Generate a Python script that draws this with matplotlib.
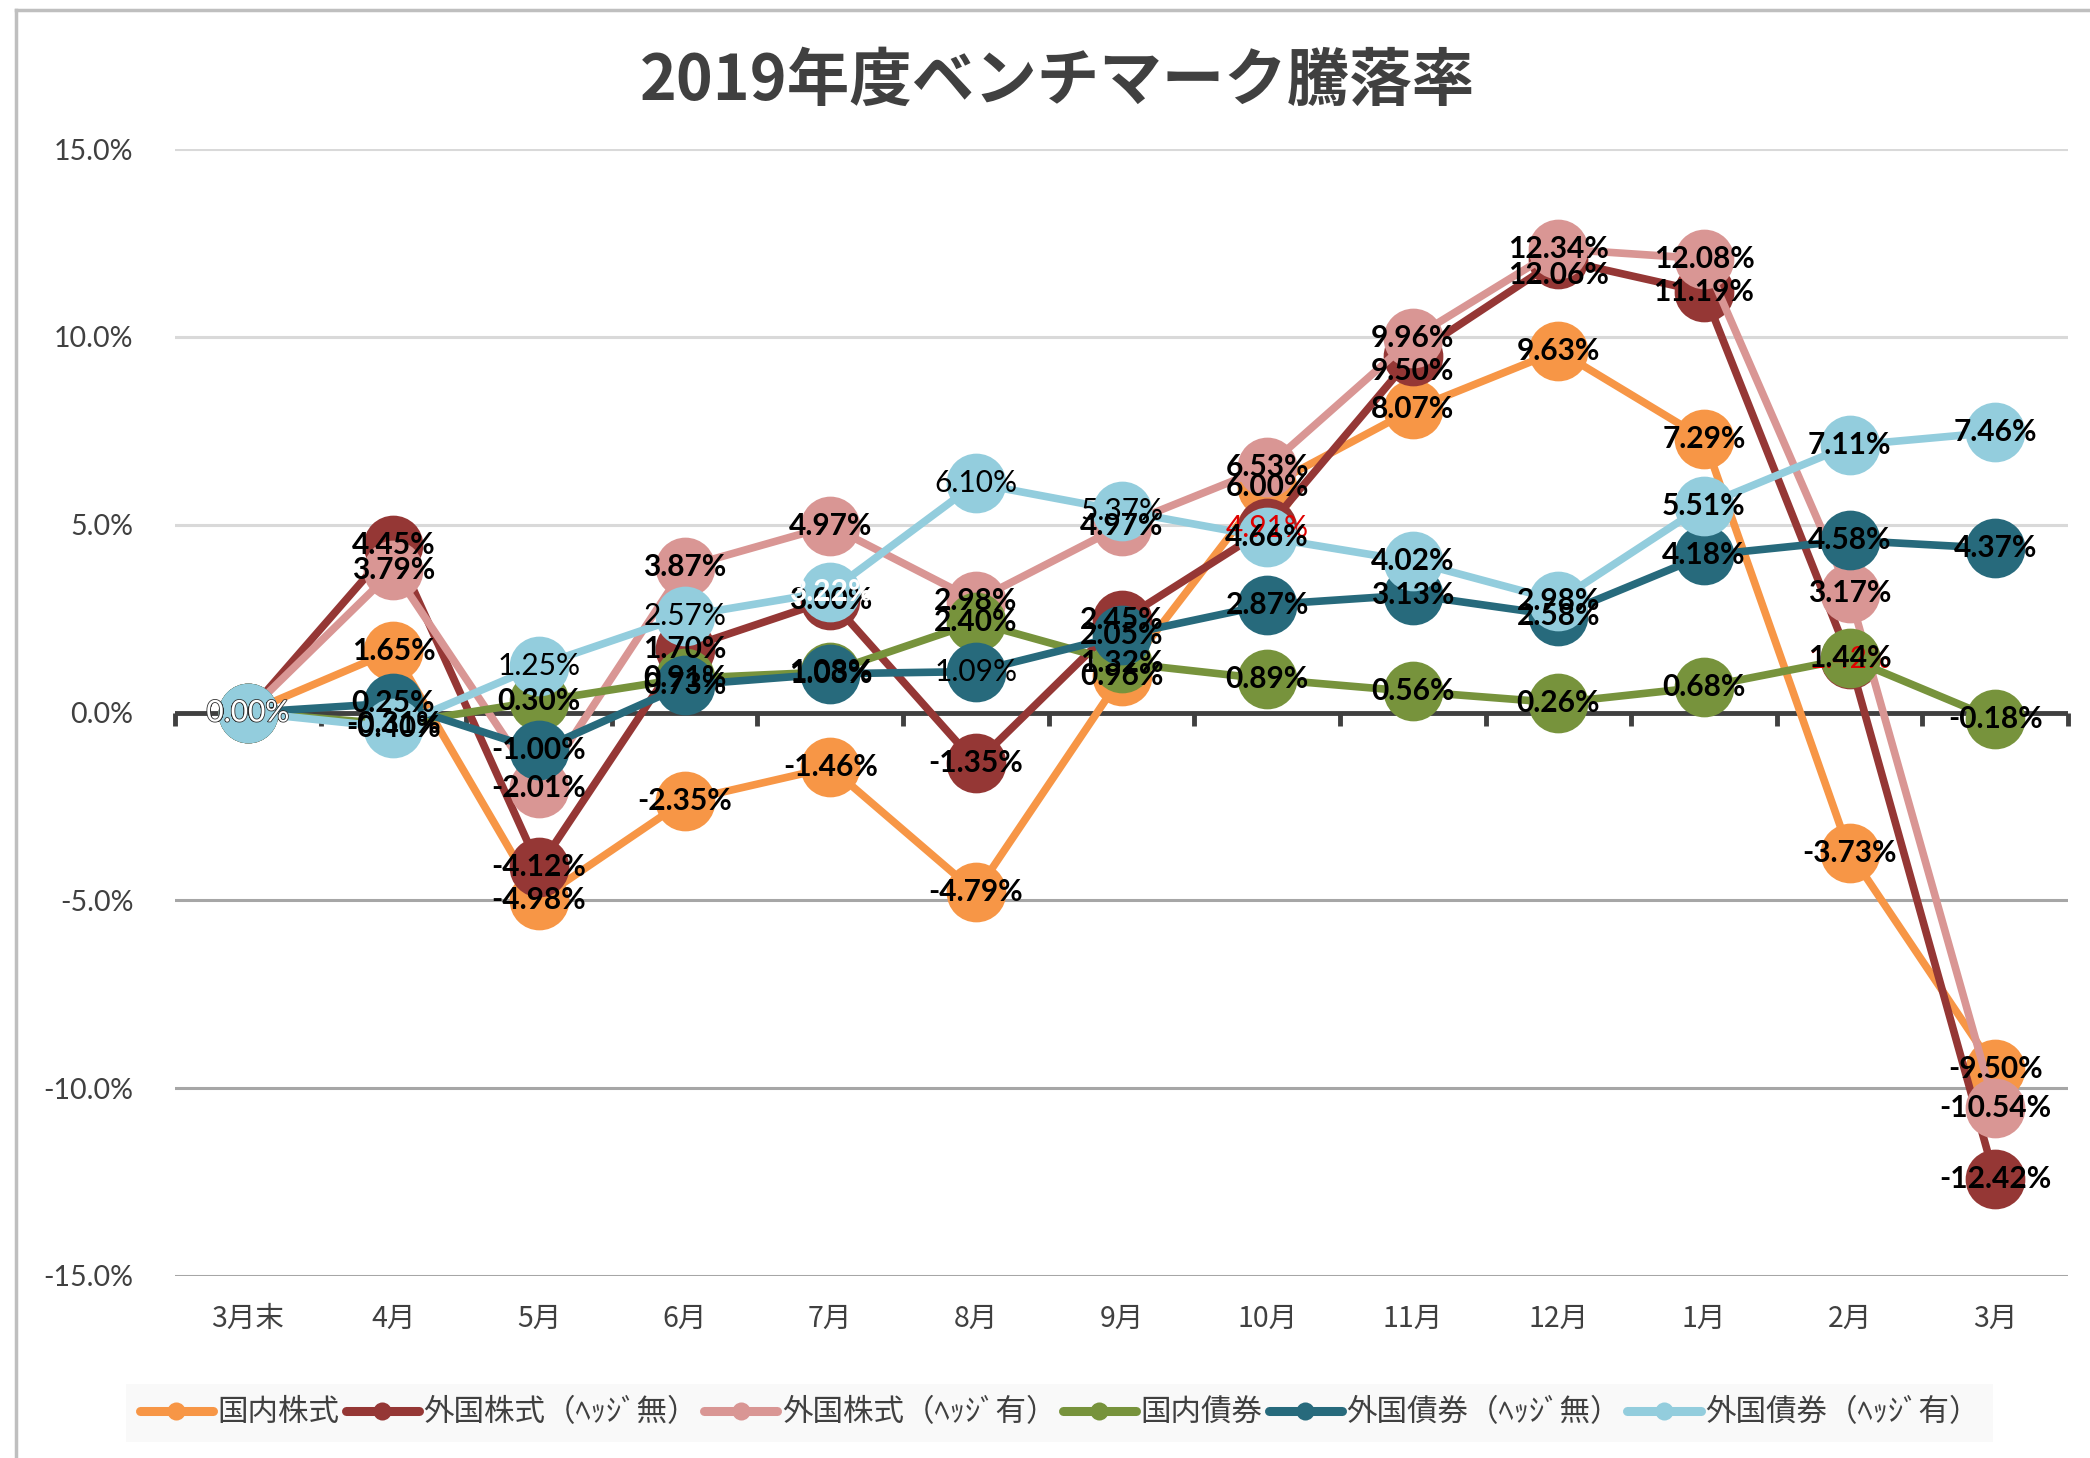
import numpy as np
import matplotlib
matplotlib.use("Agg")
import matplotlib.pyplot as plt
import matplotlib.patheffects as pe
from matplotlib.lines import Line2D

plt.rcParams['font.family'] = ['Lato', 'Noto Sans CJK JP', 'DejaVu Sans']

# ---- data (percent) ----
months = ['3月末', '4月', '5月', '6月', '7月', '8月', '9月', '10月', '11月', '12月', '1月', '2月', '3月']

names = ['国内株式', '外国株式（ﾍｯｼﾞ無）', '外国株式（ﾍｯｼﾞ有）', '国内債券', '外国債券（ﾍｯｼﾞ無）', '外国債券（ﾍｯｼﾞ有）']

jp_stock = [0.00, 1.65, -4.98, -2.35, -1.46, -4.79, 0.96, 6.00, 8.07, 9.63, 7.29, -3.73, -9.50]
fx_stock_unhedged = [0.00, 4.45, -4.12, 1.70, 3.00, -1.35, 2.45, 4.91, 9.50, 12.06, 11.19, 1.42, -12.42]
fx_stock_hedged = [0.00, 3.79, -2.01, 3.87, 4.97, 2.98, 4.97, 6.53, 9.96, 12.34, 12.08, 3.17, -10.54]
jp_bond = [0.00, -0.31, 0.30, 0.91, 1.08, 2.40, 1.32, 0.89, 0.56, 0.26, 0.68, 1.44, -0.18]
fx_bond_unhedged = [0.00, 0.25, -1.00, 0.73, 1.03, 1.09, 2.05, 2.87, 3.13, 2.58, 4.18, 4.58, 4.37]
fx_bond_hedged = [0.00, -0.40, 1.25, 2.57, 3.22, 6.10, 5.37, 4.66, 4.02, 2.98, 5.51, 7.11, 7.46]

series = [jp_stock, fx_stock_unhedged, fx_stock_hedged, jp_bond, fx_bond_unhedged, fx_bond_hedged]
colors = ['#F79646', '#953735', '#D99694', '#77933C', '#276A7C', '#93CDDD']

# label style tweaks seen in the original (series index, point index)
label_style = {
    (1, 7): dict(color='#E00000', fontweight='normal'),
    (1, 11): dict(color='#E00000', fontweight='normal'),
    (4, 5): dict(fontweight='normal'),
    (5, 2): dict(fontweight='normal'),
    (5, 3): dict(fontweight='normal'),
    (5, 4): dict(color='white'),
    (5, 5): dict(fontweight='normal'),
    (5, 6): dict(fontweight='normal'),
}
# labels nudged down by hand in the original (points)
label_nudge = {(1, 8): -11, (1, 9): -11}

fig = plt.figure(figsize=(20.9, 14.58), dpi=100)
ax = fig.add_axes([175 / 2090, 1 - 1276 / 1458, (2068 - 175) / 2090, (1276 - 149) / 1458])

x = np.arange(len(months))
for i, (vals, c) in enumerate(zip(series, colors)):
    ax.plot(x, vals, color=c, lw=5.5, marker='o', ms=43, mew=0,
            solid_joinstyle='round', zorder=3 + i, clip_on=False)

# data labels on top of everything
for i, vals in enumerate(series):
    for j, v in enumerate(vals):
        kw = dict(color='black', fontweight='bold')
        if j == 0:
            kw['fontweight'] = 'normal'
        kw.update(label_style.get((i, j), {}))
        t = ax.annotate(f'{v:.2f}%', (x[j], v), xytext=(0, label_nudge.get((i, j), 0)),
                        textcoords='offset points', ha='center', va='center', fontsize=21.5,
                        zorder=20 + i, **kw)
        if i == 5 and j == 0:
            t.set_color('white')
            t.set_path_effects([pe.withStroke(linewidth=1.2, foreground='#333333')])

ax.set_xlim(-0.5, len(months) - 0.5)
ax.set_ylim(-15, 15)
ax.set_yticks(np.arange(-15, 16, 5))
ax.set_yticklabels([f'{t:.1f}%' for t in np.arange(-15, 16, 5)])
ax.set_xticks(x)
ax.set_xticklabels(months, family=['Noto Sans CJK JP'])
ax.tick_params(axis='y', length=0, pad=30, labelsize=20.5, labelcolor='#404040')
ax.tick_params(axis='x', length=0, pad=20, labelsize=20.5, labelcolor='#404040')
for s in ax.spines.values():
    s.set_visible(False)

ax.grid(axis='y', lw=2.2, zorder=0)
for gl, tv in zip(ax.get_ygridlines(), ax.get_yticks()):
    if tv < 0:
        gl.set_color('#A6A6A6')
    elif tv > 0:
        gl.set_color('#D9D9D9')
    else:
        gl.set_visible(False)
ax.set_axisbelow(True)

# zero axis with tick marks between categories
ax.axhline(0, color='#404040', lw=3.5, zorder=2)
bounds = np.arange(len(months) + 1) - 0.5
ax.vlines(bounds, -0.35, 0, color='#404040', lw=3.5, zorder=2, clip_on=False)

fig.text(0.506, 0.944, '2019年度ベンチマーク騰落率', ha='center', va='center',
         fontsize=45, fontweight='bold', color='#404040', family=['Noto Sans CJK JP'])

# chart frame (left and top edges visible in the original)
fig.add_artist(Line2D([16 / 2090, 16 / 2090], [0, 1 - 10 / 1458], transform=fig.transFigure,
                      color='#BFBFBF', lw=2.5))
fig.add_artist(Line2D([16 / 2090, 1], [1 - 10 / 1458, 1 - 10 / 1458], transform=fig.transFigure,
                      color='#BFBFBF', lw=2.5))

handles = [Line2D([], [], color=c, lw=6.5, marker='o', ms=13, mew=0, solid_capstyle='round')
           for c in colors]
leg = fig.legend(handles, names, loc='center', bbox_to_anchor=(0.507, 0.031), ncol=6,
                 frameon=True, handlelength=2.4, handletextpad=0.15,
                 columnspacing=0.2, borderpad=0.45,
                 prop={'family': ['Noto Sans CJK JP'], 'size': 22})
leg.get_frame().set_facecolor('#F8F8F8')
leg.get_frame().set_edgecolor('none')
leg.get_frame().set_boxstyle('square', pad=0)
for t in leg.get_texts():
    t.set_color('#404040')

fig.savefig('out.png', dpi=100, facecolor='white')
